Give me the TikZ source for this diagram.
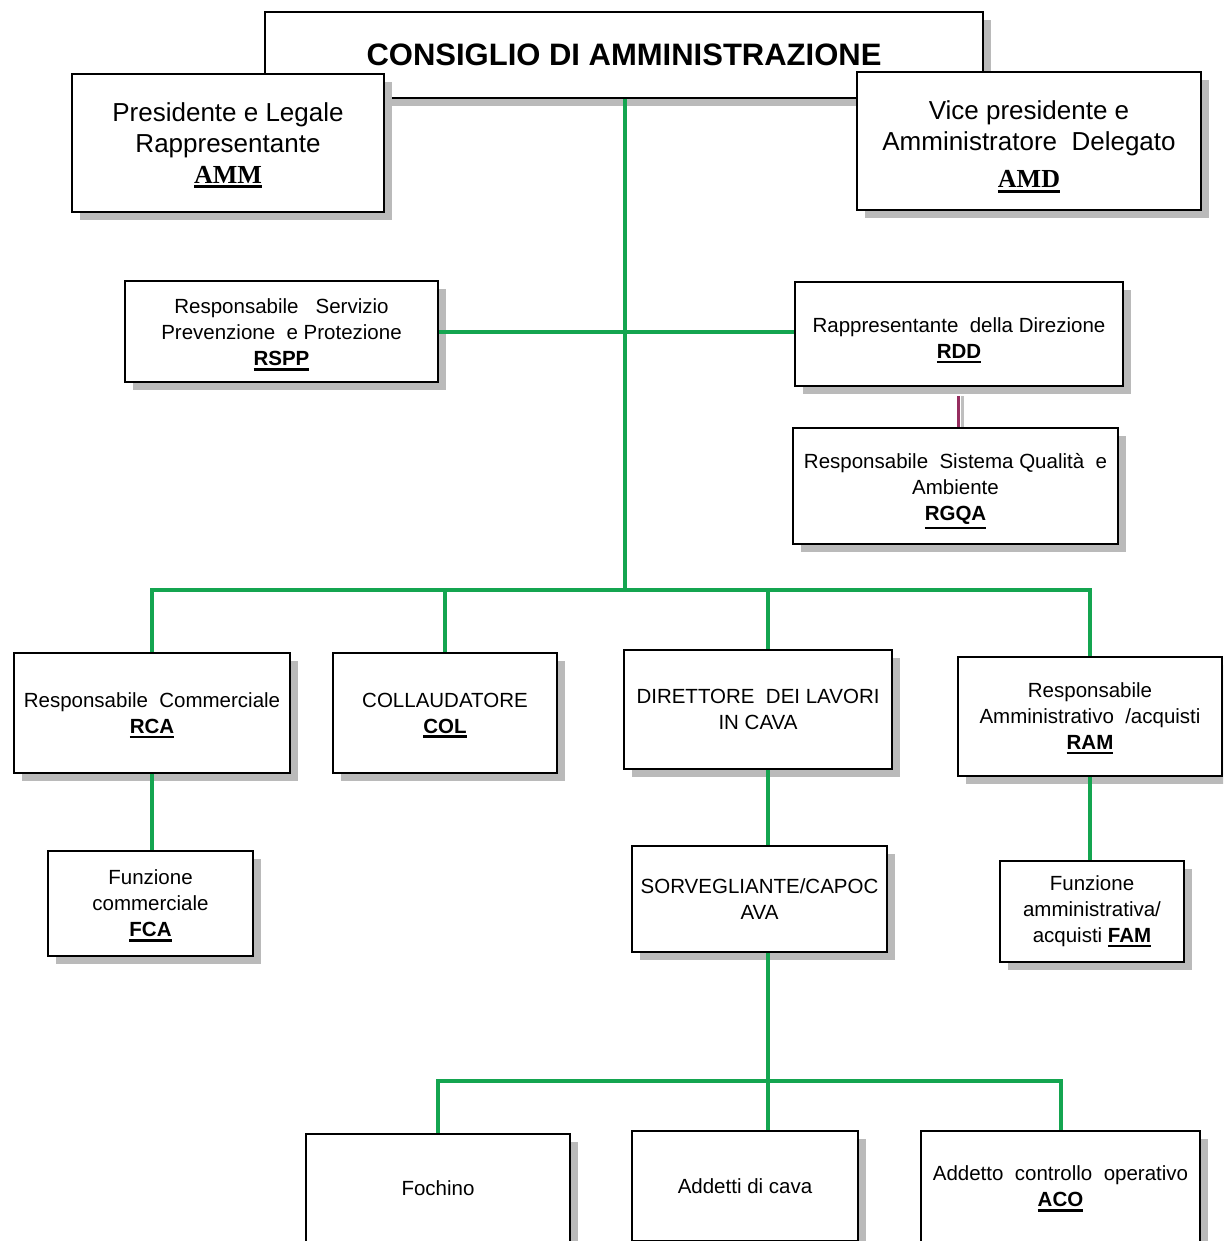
\documentclass[tikz,border=0pt]{standalone}
\usepackage{fontspec}
\setmainfont{Liberation Sans}
\newfontfamily\timesfont{Liberation Serif}
\usetikzlibrary{shadows}
\definecolor{linea}{RGB}{20,165,80}
\definecolor{qualita}{RGB}{150,45,95}
\newcommand{\sigla}[1]{\vtop{\hbox{\bfseries #1}\kern2pt\hrule height 2.5pt\kern-4.5pt}}
\newcommand{\alza}[1]{\rule{0pt}{#1}}
\tikzset{
  unit/.style={draw, line width=2.5pt, fill=white, inner sep=0pt, align=center,
    font=\fontsize{20.5}{26}\selectfont,
    drop shadow={shadow xshift=8pt, shadow yshift=-8pt, fill=black!27, opacity=1}},
  head/.style={unit, font=\fontsize{26}{31}\selectfont},
  link/.style={draw=linea, line width=4pt},
}
\begin{document}
\begin{tikzpicture}[x=1pt,y=-1pt]
\useasboundingbox (0,0) rectangle (1223,1241);
\fill[white] (0,0) rectangle (1223,1241);
\clip (0,0) rectangle (1223,1241);
% vertice
\node[unit, minimum width=718, minimum height=86, font=\fontsize{31}{37}\selectfont\bfseries] (cda) at (624,55) {CONSIGLIO DI AMMINISTRAZIONE};
\node[head, minimum width=312, minimum height=138] (amm) at (228,143) {Presidente e Legale\\Rappresentante\\{\timesfont\sigla{AMM}}};
\node[head, minimum width=344, minimum height=138] (amd) at (1029,141) {\alza{26pt}Vice presidente e\\Amministratore\ \ Delegato\\[6pt]{\timesfont\sigla{AMD}}};
% staff
\node[unit, minimum width=313, minimum height=101] (rspp) at (281.5,331.5) {\alza{17pt}Responsabile\ \ \ Servizio\\Prevenzione\ \ e Protezione\\\sigla{RSPP}};
\node[unit, minimum width=328, minimum height=104] (rdd) at (959,334) {\alza{23pt}Rappresentante\ \ della Direzione\\\sigla{RDD}};
\node[unit, minimum width=325, minimum height=116] (rgqa) at (955.5,486) {\alza{21pt}Responsabile\ \ Sistema Qualità\ \ e\\Ambiente\\\sigla{RGQA}};
% funzioni
\node[unit, minimum width=276, minimum height=120] (rca) at (152,713) {Responsabile\ \ Commerciale\\\sigla{RCA}};
\node[unit, minimum width=224, minimum height=120] (col) at (445,713) {COLLAUDATORE\\\sigla{COL}};
\node[unit, minimum width=268, minimum height=119] (dlc) at (758,709.5) {DIRETTORE\ \ DEI LAVORI\\IN CAVA};
\node[unit, minimum width=264, minimum height=119] (ram) at (1090,716.5) {Responsabile\\Amministrativo\ \ /acquisti\\\sigla{RAM}};
\node[unit, minimum width=205, minimum height=105] (fca) at (150.5,903.5) {Funzione\\commerciale\\\sigla{FCA}};
\node[unit, minimum width=255, minimum height=106] (sor) at (759.5,899) {SORVEGLIANTE/CAPOC\\AVA};
\node[unit, minimum width=184, minimum height=101] (fam) at (1092,911.5) {Funzione\\amministrativa/\\acquisti \sigla{FAM}};
% cava
\node[unit, minimum width=264, minimum height=108] (foc) at (438,1188) {Fochino};
\node[unit, minimum width=226, minimum height=110] (add) at (745,1186) {Addetti di cava};
\node[unit, minimum width=279, minimum height=111] (aco) at (1060.5,1186.5) {Addetto\ \ controllo\ \ operativo\\\sigla{ACO}};
% collegamenti
\coordinate (bus) at (625,590);
\coordinate (spine) at (768,1081);
\draw[link] (cda.south -| bus) -- (bus);
\draw[link] (rspp.east) -- (rspp.east -| rdd.west);
\draw[link] (rca.north) |- (bus) -| (ram.north);
\draw[link] (col.north) -- (col.north |- bus);
\draw[link] (dlc.north -| spine) -- (bus -| spine);
\draw[link] (rca.south) -- (rca.south |- fca.north);
\draw[link] (dlc.south -| spine) -- (sor.north -| spine);
\draw[link] (ram.south) -- (ram.south |- fam.north);
\draw[link] (sor.south -| spine) -- (spine);
\draw[link] (foc.north) |- (spine) -| (aco.north);
\draw[link] (add.north -| spine) -- (spine);
\draw[black!25, line width=3pt] ([xshift=3pt,yshift=-9pt]rdd.south) -- ([xshift=3pt]rdd.south |- rgqa.north);
\draw[qualita, line width=3pt] ([xshift=-1pt,yshift=-9pt]rdd.south) -- ([xshift=-1pt]rdd.south |- rgqa.north);
\end{tikzpicture}
\end{document}
